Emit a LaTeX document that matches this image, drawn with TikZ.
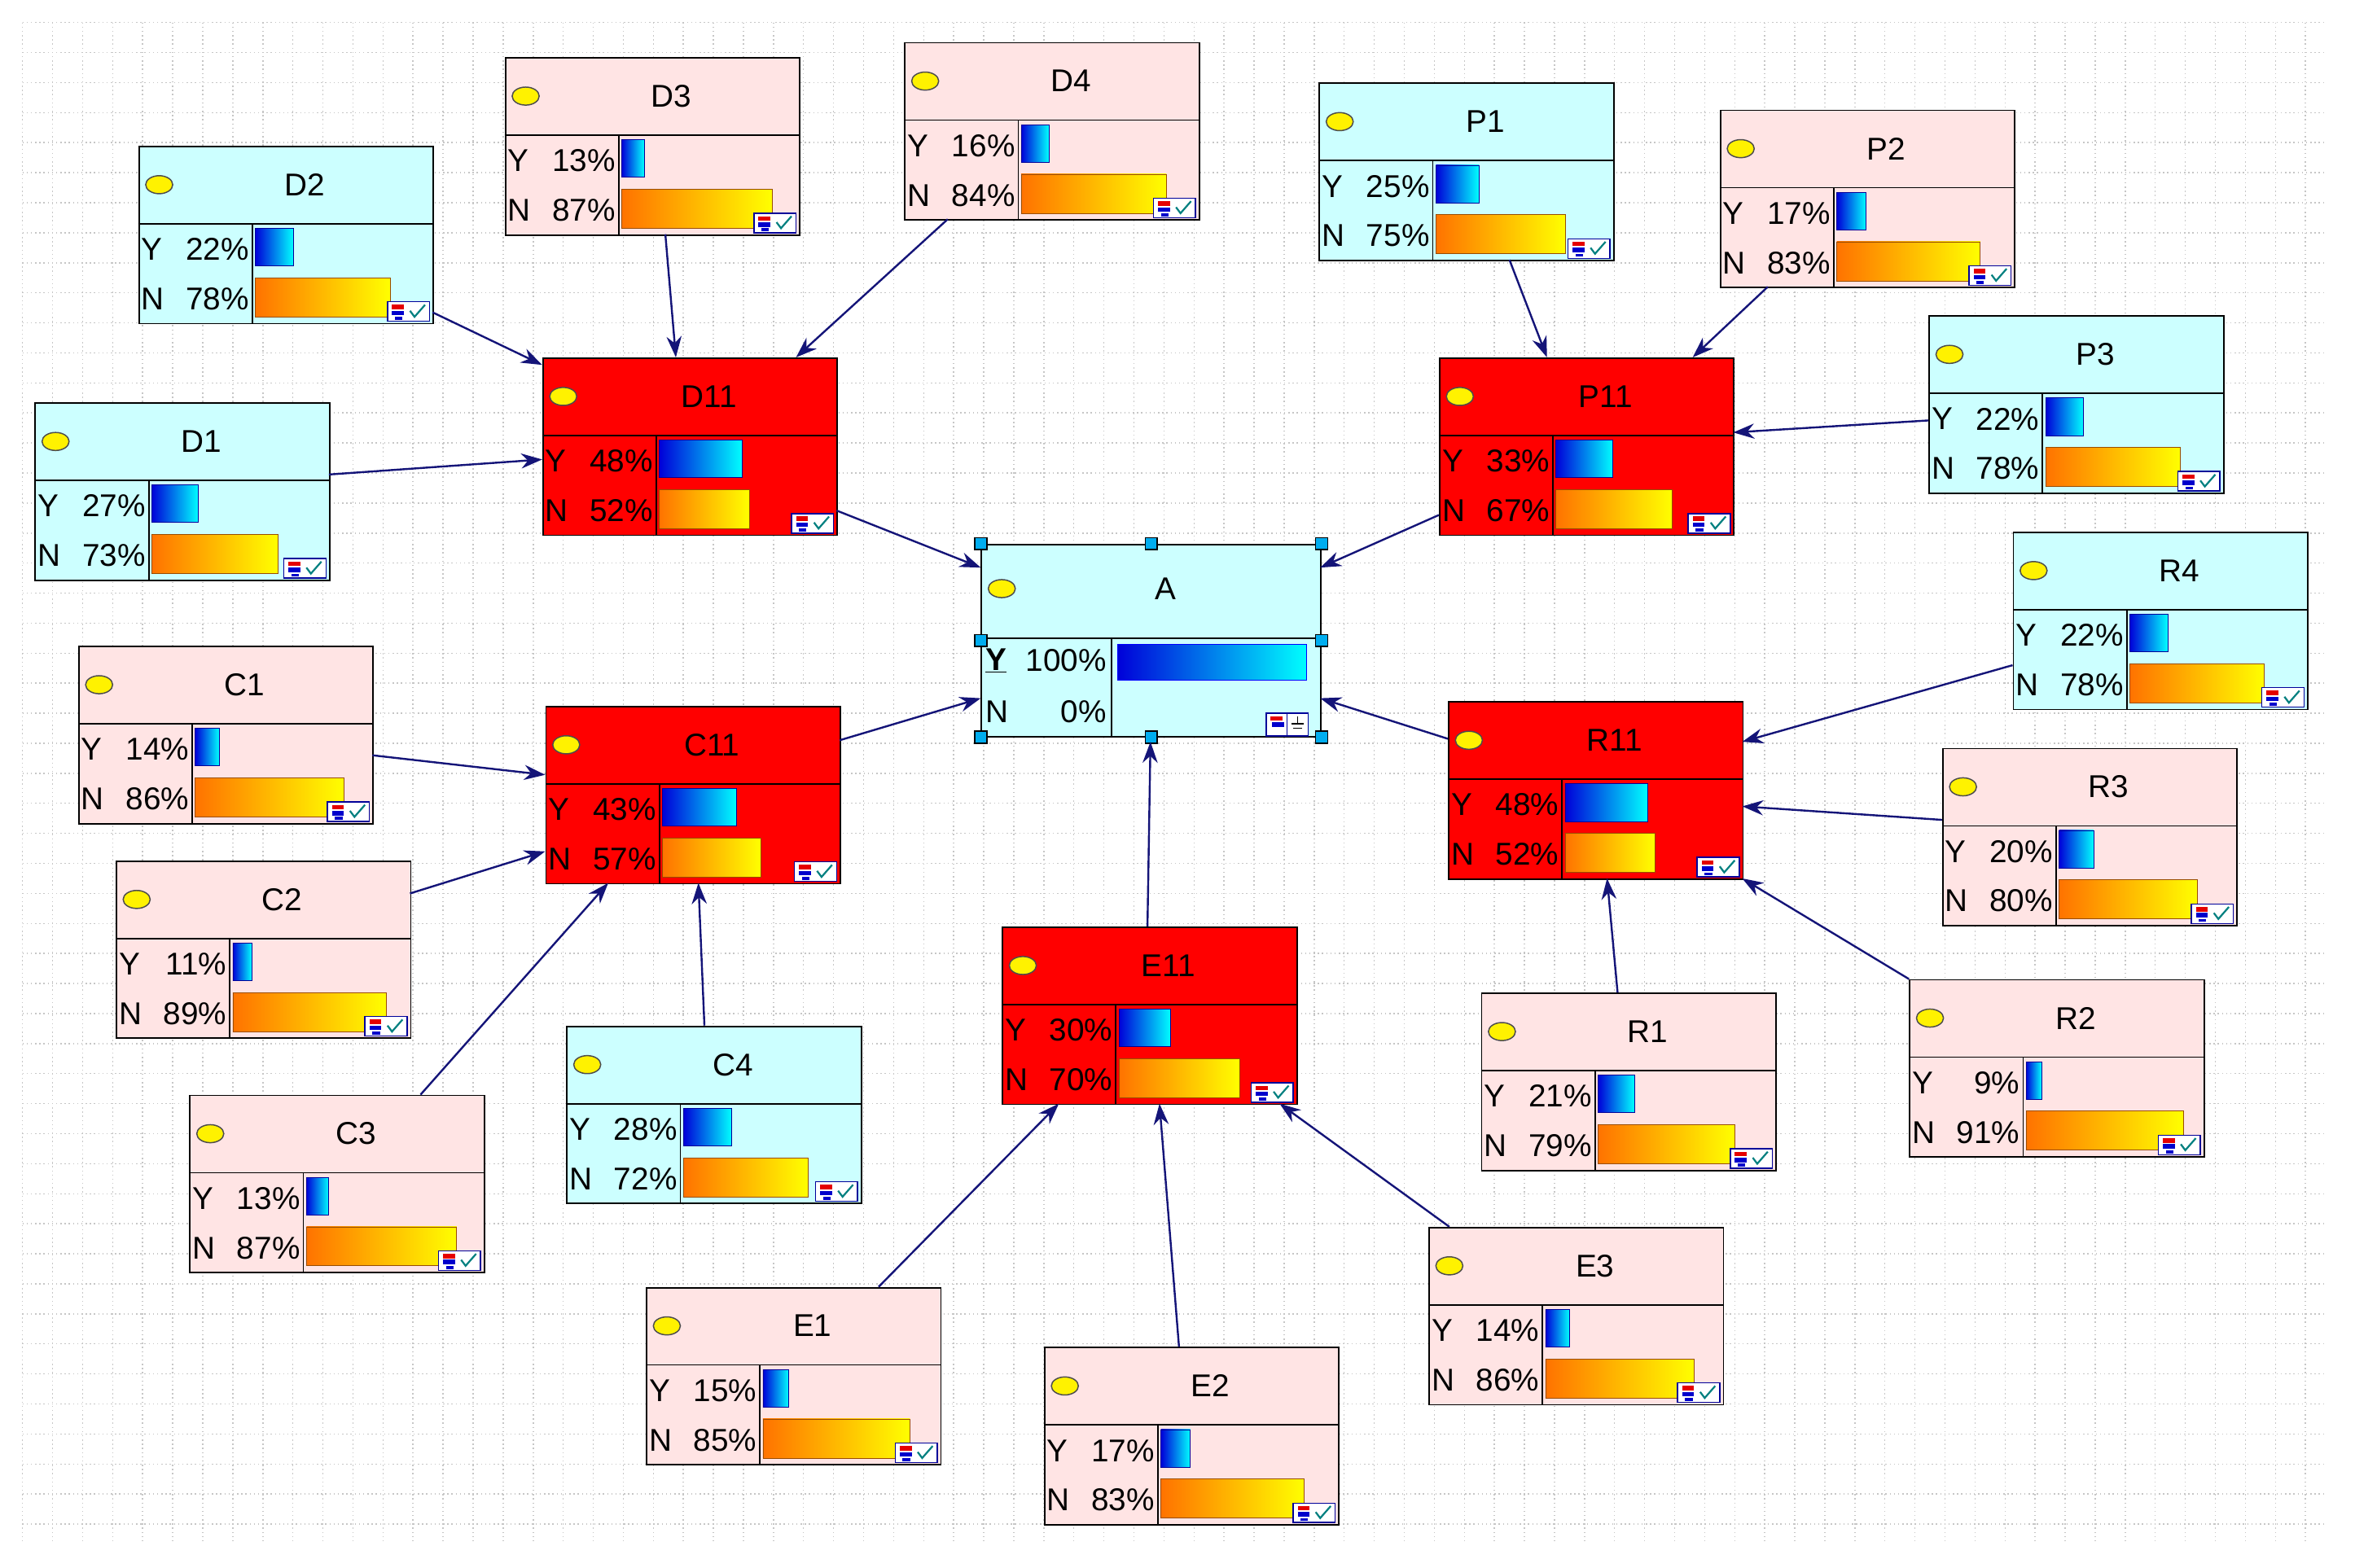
\documentclass[tikz,border=0pt]{standalone}
\usepackage{fontspec}
\setmainfont{Liberation Sans}
\usetikzlibrary{arrows.meta,calc}
\definecolor{ncyan}{RGB}{204,255,255}
\definecolor{npink}{RGB}{255,228,228}
\definecolor{nred}{RGB}{255,0,0}
\definecolor{navy}{RGB}{20,20,120}
\tikzset{
 box/.style={draw=black,line width=1pt,anchor=north west,inner sep=0pt,minimum width=196pt,minimum height=118pt},
 lab/.style={font=\fontsize{21}{22}\selectfont,inner sep=0pt},
 edge/.style={draw=navy,line width=1.3pt,-{Stealth[length=14pt,width=10pt]}},
 handle/.style={draw=black,fill=cyan,minimum size=8pt,inner sep=0pt,line width=0.8pt},
 icon/.style={fill=white,draw=blue!60!black,line width=0.8pt}
}
\newcommand\bnode[7]{%
 \node[box,fill=#7] (#1) at (#2,#3) {};
 \draw[line width=1pt] ($(#1.north west)+(0,52)$) -- ++(196,0);
 \draw[line width=1pt] ($(#1.north west)+(76,52)$) -- ++(0,66);
 \draw[fill=yellow,draw=black!70,line width=0.8pt] ($(#1.north west)+(14,26)$) ellipse (9pt and 6pt);
 \node[lab] at ($(#1.north west)+(111,26)$) {#4};
 \node[lab,anchor=west] at ($(#1.north west)+(2,69)$) {Y};
 \node[lab,anchor=east] at ($(#1.north west)+(74,69)$) {#5\%};
 \node[lab,anchor=west] at ($(#1.north west)+(2,102)$) {N};
 \node[lab,anchor=east] at ($(#1.north west)+(74,102)$) {#6\%};
 \pgfmathsetmacro\wy{1.15*#5}\pgfmathsetmacro\wn{1.15*#6}
 \shade[left color=blue!85!black,right color=cyan,draw=blue!60!black] ($(#1.north west)+(78,55)$) rectangle ++(\wy pt,25);
 \shade[left color=orange!90!red,right color=yellow,draw=orange!60!black] ($(#1.north west)+(78,88)$) rectangle ++(\wn pt,26);
 \draw[icon] ($(#1.north west)+(166,104)$) rectangle ++(28,13);
 \fill[red!90!black] ($(#1.north west)+(169,106)$) rectangle ++(8,3);
 \fill[blue!80!black] ($(#1.north west)+(169,110)$) rectangle ++(8,3);
 \fill[blue!80!black] ($(#1.north west)+(171,114)$) rectangle ++(5,2);
 \draw[teal,line width=1.2pt] ($(#1.north west)+(181,110)$) -- ++(3,4) -- ++(7,-8);
}
\begin{document}
\begin{tikzpicture}[x=1pt,y=-1pt]
\useasboundingbox[fill=white] (0,0) rectangle (1568,1044);
\foreach \x in {15,35,...,1548} \draw[gray!45,dotted,line width=0.8pt] (\x,15) -- (\x,1028);
\foreach \y in {15,35,...,1028} \draw[gray!45,dotted,line width=0.8pt] (15,\y) -- (1548,\y);

\bnode{D2}{92}{97}{D2}{22}{78}{ncyan}
\bnode{D3}{336}{38}{D3}{13}{87}{npink}
\bnode{D4}{602}{28}{D4}{16}{84}{npink}
\bnode{P1}{878}{55}{P1}{25}{75}{ncyan}
\bnode{P2}{1145}{73}{P2}{17}{83}{npink}
\bnode{P3}{1284}{210}{P3}{22}{78}{ncyan}
\bnode{D1}{23}{268}{D1}{27}{73}{ncyan}
\bnode{D11}{361}{238}{D11}{48}{52}{nred}
\bnode{P11}{958}{238}{P11}{33}{67}{nred}
\bnode{R4}{1340}{354}{R4}{22}{78}{ncyan}
\bnode{C1}{52}{430}{C1}{14}{86}{npink}
\bnode{C11}{363}{470}{C11}{43}{57}{nred}
\bnode{R11}{964}{467}{R11}{48}{52}{nred}
\bnode{R3}{1293}{498}{R3}{20}{80}{npink}
\bnode{C2}{77}{573}{C2}{11}{89}{npink}
\bnode{E11}{667}{617}{E11}{30}{70}{nred}
\bnode{C4}{377}{683}{C4}{28}{72}{ncyan}
\bnode{R1}{986}{661}{R1}{21}{79}{npink}
\bnode{R2}{1271}{652}{R2}{9}{91}{npink}
\bnode{C3}{126}{729}{C3}{13}{87}{npink}
\bnode{E3}{951}{817}{E3}{14}{86}{npink}
\bnode{E1}{430}{857}{E1}{15}{85}{npink}
\bnode{E2}{695}{897}{E2}{17}{83}{npink}

% node A
\node[box,fill=ncyan,minimum width=226pt,minimum height=128pt] (A) at (653,362) {};
\draw[line width=1pt] ($(A.north west)+(0,63)$) -- ++(226,0);
\draw[line width=1pt] ($(A.north west)+(87,63)$) -- ++(0,65);
\draw[fill=yellow,draw=black!70,line width=0.8pt] ($(A.north west)+(14,30)$) ellipse (9pt and 6pt);
\node[lab] at ($(A.north west)+(123,30)$) {A};
\node[lab,anchor=west] at ($(A.north west)+(3,78)$) {\underline{\textbf{Y}}};
\node[lab,anchor=east] at ($(A.north west)+(84,78)$) {100\%};
\node[lab,anchor=west] at ($(A.north west)+(3,112)$) {N};
\node[lab,anchor=east] at ($(A.north west)+(84,112)$) {0\%};
\shade[left color=blue!85!black,right color=cyan,draw=blue] ($(A.north west)+(91,67)$) rectangle ++(126,24);
\draw[icon] ($(A.north west)+(190,113)$) rectangle ++(28,15);
\draw[icon] ($(A.north west)+(190,113)$) rectangle ++(14,15);
\fill[red!90!black] ($(A.north west)+(193,115)$) rectangle ++(8,3);
\fill[blue!80!black] ($(A.north west)+(194,119)$) rectangle ++(8,3);
\draw[line width=0.8pt] ($(A.north west)+(211,115)$) -- ++(0,5) ($(A.north west)+(207,120)$) -- ++(8,0) ($(A.north west)+(208,123)$) -- ++(6,0);
\foreach \p in {north west,north,north east,west,east,south west,south,south east}
  \node[handle] at ($(A.\p)+(0,0)$) {};

% edges
\draw[edge] ($(D2.north west)+(196,111)$) -- ($(D11.north west)+(0,5)$);
\draw[edge] ($(D3.north west)+(107,118)$) -- ($(D11.north west)+(89,0)$);
\draw[edge] ($(D4.north west)+(29,118)$) -- ($(D11.north west)+(169,0)$);
\draw[edge] ($(D1.north west)+(196,48)$) -- ($(D11.north west)+(0,68)$);
\draw[edge] ($(P1.north west)+(127,118)$) -- ($(P11.north west)+(72,0)$);
\draw[edge] ($(P2.north west)+(32,118)$) -- ($(P11.north west)+(169,0)$);
\draw[edge] ($(P3.north west)+(0,70)$) -- ($(P11.north west)+(196,50)$);
\draw[edge] ($(D11.north west)+(196,102)$) -- ($(A.north west)+(0,16)$);
\draw[edge] ($(P11.north west)+(0,105)$) -- ($(A.north west)+(226,16)$);
\draw[edge] ($(C1.north west)+(196,73)$) -- ($(C11.north west)+(0,46)$);
\draw[edge] ($(C2.north west)+(196,22)$) -- ($(C11.north west)+(0,97)$);
\draw[edge] ($(C3.north west)+(154,0)$) -- ($(C11.north west)+(42,118)$);
\draw[edge] ($(C4.north west)+(92,0)$) -- ($(C11.north west)+(102,118)$);
\draw[edge] ($(C11.north west)+(196,23)$) -- ($(A.north west)+(0,103)$);
\draw[edge] ($(R4.north west)+(0,89)$) -- ($(R11.north west)+(196,27)$);
\draw[edge] ($(R3.north west)+(0,48)$) -- ($(R11.north west)+(196,70)$);
\draw[edge] ($(R1.north west)+(91,0)$) -- ($(R11.north west)+(106,118)$);
\draw[edge] ($(R2.north west)+(0,0)$) -- ($(R11.north west)+(196,118)$);
\draw[edge] ($(R11.north west)+(0,25)$) -- ($(A.north west)+(226,103)$);
\draw[edge] ($(E11.north west)+(97,0)$) -- ($(A.north west)+(113,132)$);
\draw[edge] ($(E1.north west)+(155,0)$) -- ($(E11.north west)+(38,118)$);
\draw[edge] ($(E2.north west)+(90,0)$) -- ($(E11.north west)+(105,118)$);
\draw[edge] ($(E3.north west)+(14,0)$) -- ($(E11.north west)+(185,118)$);
\end{tikzpicture}
\end{document}
